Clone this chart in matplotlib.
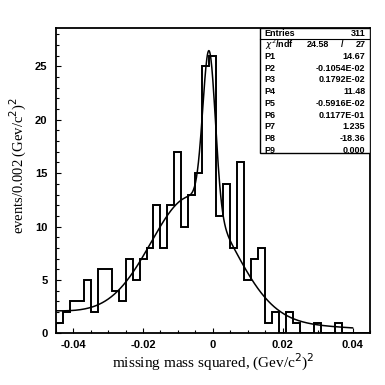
import numpy as np
import matplotlib
matplotlib.use("Agg")
import matplotlib.pyplot as plt
from matplotlib.ticker import MultipleLocator

# histogram: 45 bins of 0.002 from -0.045 to 0.045
bin_lo = -0.045
bin_width = 0.002
counts = [1, 2, 3, 3, 5, 2, 6, 6, 4, 3, 7, 5, 7, 8, 12, 8, 12, 17, 10, 13,
          15, 25, 26, 11, 14, 8, 16, 5, 7, 8, 1, 2, 0, 2, 1, 0, 0, 1, 0, 0,
          1, 0, 0, 0, 0]

# fit parameters (two gaussians + polynomial background)
fit_params = [14.67, -0.1054e-02, 0.1792e-02, 11.48, -0.5916e-02, 0.1177e-01,
              1.235, -18.36, 0.000]
fit_range = (-0.045, 0.040)

# stats box
stat_names = ["P1", "P2", "P3", "P4", "P5", "P6", "P7", "P8", "P9"]
stat_values = ["14.67", "-0.1054E-02", "0.1792E-02", "11.48", "-0.5916E-02",
               "0.1177E-01", "1.235", "-18.36", "0.000"]
entries = "311"
chi2 = "24.58"
ndf = "27"

xticks = [-0.04, -0.02, 0, 0.02, 0.04]
xtick_labels = ["-0.04", "-0.02", "0", "0.02", "0.04"]


def fit_func(x, p):
    g1 = p[0] * np.exp(-0.5 * ((x - p[1]) / p[2]) ** 2)
    g2 = p[3] * np.exp(-0.5 * ((x - p[4]) / p[5]) ** 2)
    return g1 + g2 + p[6] + p[7] * x + p[8] * x ** 2


edges = bin_lo + bin_width * np.arange(len(counts) + 1)

fig = plt.figure(figsize=(3.85, 3.85), dpi=100)
ax = fig.add_axes([0.1447, 0.1343, 0.8163, 0.7930])

ax.stairs(counts, edges, baseline=0, color="black", linewidth=1.4)

xs = np.linspace(fit_range[0], fit_range[1], 600)
ax.plot(xs, fit_func(xs, fit_params), color="black", linewidth=1.1)

ax.set_xlim(edges[0], edges[-1])
ax.set_ylim(0, 28.6)

for s in ax.spines.values():
    s.set_linewidth(1.3)

ax.set_xticks(xticks)
ax.set_xticklabels(xtick_labels)
ax.xaxis.set_minor_locator(MultipleLocator(0.005))
ax.yaxis.set_major_locator(MultipleLocator(5))
ax.yaxis.set_minor_locator(MultipleLocator(1))
ax.tick_params(which="both", direction="in", top=False, right=False, width=0.8)
ax.tick_params(which="major", length=3.5)
ax.tick_params(which="minor", length=2)
ax.tick_params(axis="x", pad=5)
ax.tick_params(axis="y", pad=6)
for lab in ax.get_xticklabels() + ax.get_yticklabels():
    lab.set_fontfamily("Liberation Sans")
    lab.set_fontweight("bold")
    lab.set_fontsize(8)

ax.set_xlabel(r"missing mass squared, (Gev/c$^2$)$^2$", family="Liberation Serif",
              fontsize=11, labelpad=1)
ax.set_ylabel(r"events/0.002 (Gev/c$^2$)$^2$", family="Liberation Serif",
              fontsize=10.5)
ax.yaxis.set_label_coords(-0.085, 0.55)

# stats box
bx0, by0 = 0.65, 0.5905
ax.add_patch(plt.Rectangle((bx0, by0), 1 - bx0, 1 - by0, transform=ax.transAxes,
                           fill=True, facecolor="white", edgecolor="black",
                           linewidth=1.0, zorder=5))
row_h = (1 - by0) / 10.7
ax.plot([bx0, 1], [1 - row_h * 0.95] * 2, transform=ax.transAxes, color="black",
        linewidth=0.8, zorder=6)
txt = dict(transform=ax.transAxes, fontsize=6.5, fontweight="bold",
           family="Liberation Sans", va="center", zorder=7)
xl, xr = bx0 + 0.015, 0.985
y = 1 - row_h * 0.45
ax.text(xl, y, "Entries", ha="left", **txt)
ax.text(xr, y, entries, ha="right", **txt)
y -= row_h
ax.text(xl, y, r"$\chi^2$/ndf", ha="left", **txt)
ax.text(0.87, y, chi2, ha="right", **txt)
ax.text(0.91, y, "/", ha="center", **txt)
ax.text(xr, y, ndf, ha="right", **txt)
for name, val in zip(stat_names, stat_values):
    y -= row_h
    ax.text(xl, y, name, ha="left", **txt)
    ax.text(xr, y, val, ha="right", **txt)

fig.savefig("out.png", dpi=100, facecolor="white")
